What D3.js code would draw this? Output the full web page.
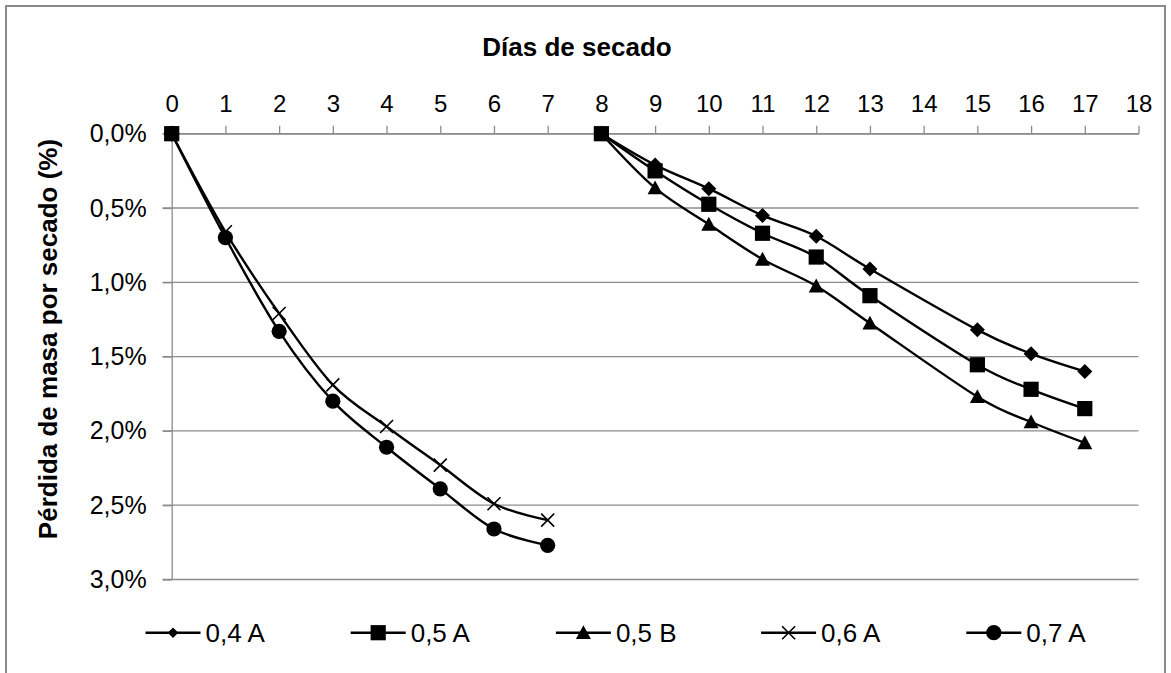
<!DOCTYPE html>
<html>
<head>
<meta charset="utf-8">
<script src="https://cdn.jsdelivr.net/npm/d3@7"></script>
<style>
  html, body { margin: 0; padding: 0; background: #fff; }
  svg { display: block; }
  text { font-family: "Liberation Sans", Arial, sans-serif; fill: #000; }
</style>
</head>
<body>
<svg id="chart" width="1171" height="673"></svg>
<script>
// Drying days for each batch
const daysBatch1 = [0, 1, 2, 3, 4, 5, 6, 7];
const daysBatch2 = [8, 9, 10, 11, 12, 13, 15, 16, 17];
const startDay = 0;

// Mass loss by drying (%)
const loss04A = [0, 0.21, 0.37, 0.55, 0.69, 0.91, 1.32, 1.48, 1.60];
const loss05A = [0, 0.25, 0.475, 0.67, 0.83, 1.09, 1.555, 1.72, 1.85];
const loss05B = [0, 0.365, 0.61, 0.845, 1.025, 1.275, 1.77, 1.94, 2.08];
const loss06A = [0, 0.66, 1.21, 1.69, 1.97, 2.23, 2.49, 2.60];
const loss07A = [0, 0.70, 1.33, 1.80, 2.11, 2.39, 2.66, 2.77];

const seriesNames = ["0,4 A", "0,5 A", "0,5 B", "0,6 A", "0,7 A"];
const markerKinds = ["diamond", "square", "triangle", "cross", "circle"];

const xTicks = d3.range(0, 19, 1);
const yTicks = [0, 0.5, 1.0, 1.5, 2.0, 2.5, 3.0];

const xTitle = "Días de secado";
const yTitle = "Pérdida de masa por secado (%)";

const series = [
  { name: seriesNames[0], kind: markerKinds[0], days: daysBatch2, values: loss04A },
  { name: seriesNames[1], kind: markerKinds[1], days: daysBatch2, values: loss05A },
  { name: seriesNames[2], kind: markerKinds[2], days: daysBatch2, values: loss05B },
  { name: seriesNames[3], kind: markerKinds[3], days: daysBatch1, values: loss06A },
  { name: seriesNames[4], kind: markerKinds[4], days: daysBatch1, values: loss07A }
];

const svg = d3.select("#chart");

// Outer chart frame (runs past the bottom edge)
svg.append("rect")
  .attr("x", 6).attr("y", 6)
  .attr("width", 1159).attr("height", 680)
  .attr("fill", "#fff")
  .attr("stroke", "#8a8a8a")
  .attr("stroke-width", 2);

const x = d3.scaleLinear().domain([0, 18]).range([171.7, 1138.5]);
const y = d3.scaleLinear().domain([0, 3]).range([133.7, 579.5]);

const fmtPct = v => d3.format(".1f")(v).replace(".", ",") + "%";

// Horizontal gridlines
svg.append("g").selectAll("line")
  .data(yTicks)
  .join("line")
  .attr("x1", 162.5).attr("x2", x(18))
  .attr("y1", d => y(d)).attr("y2", d => y(d))
  .attr("stroke", "#8c8c8c")
  .attr("stroke-width", 1.3);

// Top x axis
const gx = svg.append("g")
  .attr("transform", `translate(0,${y(0)})`)
  .call(d3.axisTop(x).tickValues(xTicks).tickFormat(d3.format("d"))
    .tickSize(8).tickSizeOuter(0).tickPadding(14));
gx.select(".domain").attr("stroke", "#8c8c8c").attr("stroke-width", 1.3);
gx.selectAll(".tick line").attr("stroke", "#8c8c8c").attr("stroke-width", 1.3);
gx.selectAll(".tick text").style("font-size", "24px");

// Left y axis
const gy = svg.append("g")
  .attr("transform", `translate(${x(0)},0)`)
  .call(d3.axisLeft(y).tickValues(yTicks).tickFormat(fmtPct)
    .tickSize(9).tickSizeOuter(0).tickPadding(16));
gy.select(".domain").attr("stroke", "#8c8c8c").attr("stroke-width", 1.3);
gy.selectAll(".tick line").attr("stroke", "#8c8c8c").attr("stroke-width", 1.3);
gy.selectAll(".tick text").style("font-size", "25px");

// Axis titles
svg.append("text")
  .attr("x", 577).attr("y", 56)
  .attr("text-anchor", "middle")
  .style("font-size", "26px").style("font-weight", "bold")
  .text(xTitle);

svg.append("text")
  .attr("transform", `translate(57,339) rotate(-90)`)
  .attr("text-anchor", "middle")
  .style("font-size", "26px").style("font-weight", "bold")
  .text(yTitle);

// Marker drawing
function drawMarker(g, kind, cx, cy, s) {
  const k = s || 1;
  if (kind === "diamond") {
    const r = 7.5 * k;
    g.append("path").attr("d", `M${cx},${cy - r}L${cx + r},${cy}L${cx},${cy + r}L${cx - r},${cy}Z`).attr("fill", "#000");
  } else if (kind === "square") {
    const h = 7.6 * k;
    g.append("rect").attr("x", cx - h).attr("y", cy - h).attr("width", 2 * h).attr("height", 2 * h).attr("fill", "#000");
  } else if (kind === "triangle") {
    const h = 7.5 * k;
    g.append("path").attr("d", `M${cx},${cy - h}L${cx + h},${cy + h * 0.85}L${cx - h},${cy + h * 0.85}Z`).attr("fill", "#000");
  } else if (kind === "cross") {
    const h = 6.5 * k;
    g.append("path").attr("d", `M${cx - h},${cy - h}L${cx + h},${cy + h}M${cx - h},${cy + h}L${cx + h},${cy - h}`)
      .attr("stroke", "#000").attr("stroke-width", 1.6).attr("fill", "none");
  } else if (kind === "circle") {
    g.append("circle").attr("cx", cx).attr("cy", cy).attr("r", 7.6 * k).attr("fill", "#000");
  }
}

const line = d3.line()
  .x(d => x(d[0]))
  .y(d => y(d[1]))
  .curve(d3.curveCardinal.tension(0));

const plot = svg.append("g");

series.forEach(s => {
  const pts = s.days.map((d, i) => [d, s.values[i]]);
  plot.append("path")
    .attr("d", line(pts))
    .attr("fill", "none")
    .attr("stroke", "#000")
    .attr("stroke-width", 2.4);
});

series.forEach(s => {
  const g = plot.append("g");
  // initial reading at the start of drying
  if (s.days[0] !== startDay) drawMarker(g, s.kind, x(startDay), y(0));
  s.days.forEach((d, i) => drawMarker(g, s.kind, x(d), y(s.values[i])));
});

// Legend
const legendY = 632.7;
const legend = svg.append("g");
series.forEach((s, i) => {
  const x0 = 145.5 + i * 205.2;
  const g = legend.append("g");
  g.append("line")
    .attr("x1", x0).attr("x2", x0 + 55)
    .attr("y1", legendY).attr("y2", legendY)
    .attr("stroke", "#000").attr("stroke-width", 2.4);
  drawMarker(g, s.kind, x0 + 27.5, legendY, s.kind === "diamond" ? 0.7 : 1);
  g.append("text")
    .attr("x", x0 + 60).attr("y", legendY)
    .attr("dy", "0.35em")
    .style("font-size", "26px")
    .text(s.name);
});
</script>
</body>
</html>
